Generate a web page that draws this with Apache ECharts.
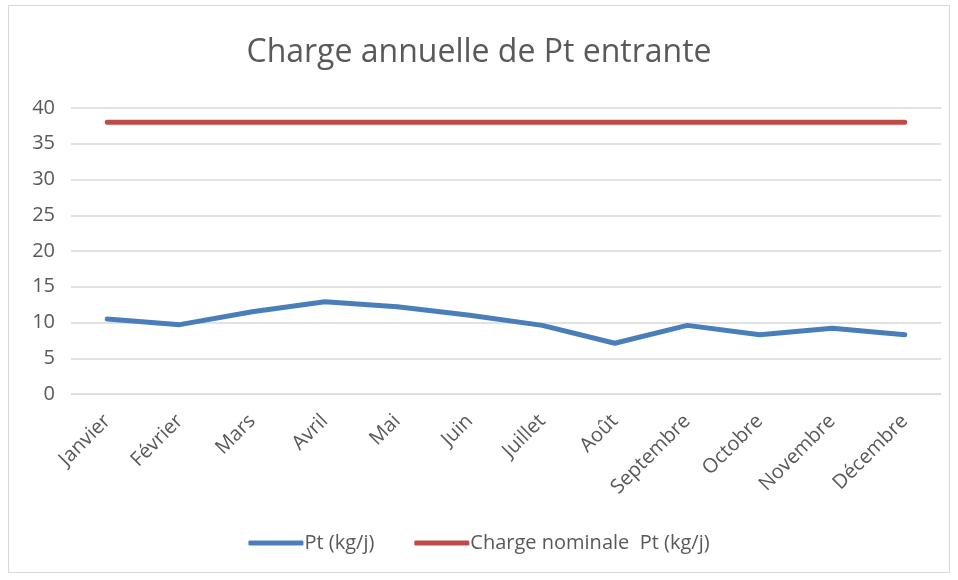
<!DOCTYPE html>
<html>
<head>
<meta charset="utf-8">
<script src="https://cdn.jsdelivr.net/npm/echarts@6/dist/echarts.min.js"></script>
<style>
  html, body { margin: 0; padding: 0; background: #fff; }
  #chart { position: absolute; left: 8px; top: 5px; width: 942px; height: 568px; border: 1px solid #d9d9d9; box-sizing: border-box; }
</style>
</head>
<body>
<div id="chart"></div>
<script>
const months = ['Janvier', 'Février', 'Mars', 'Avril', 'Mai', 'Juin', 'Juillet', 'Août', 'Septembre', 'Octobre', 'Novembre', 'Décembre'];
const ptValues = [10.5, 9.7, 11.5, 12.9, 12.2, 11.0, 9.6, 7.1, 9.6, 8.3, 9.2, 8.3];
const nominalValues = [38, 38, 38, 38, 38, 38, 38, 38, 38, 38, 38, 38];

const chart = echarts.init(document.getElementById('chart'));

const option = {
  animation: false,
  textStyle: { fontFamily: 'Open Sans, Liberation Sans, sans-serif' },
  title: {
    text: 'Charge annuelle de Pt entrante',
    left: 'center',
    top: 26,
    textStyle: { color: '#595959', fontSize: 32, fontWeight: 'normal' }
  },
  legend: {
    bottom: 14,
    left: 'center',
    itemWidth: 55,
    itemHeight: 5,
    itemGap: 40,
    icon: 'roundRect',
    textStyle: { color: '#595959', fontSize: 20, padding: [0, 0, 0, -4] },
    data: ['Pt (kg/j)', 'Charge nominale  Pt (kg/j)']
  },
  grid: {
    left: 62,
    right: 8,
    top: 102,
    bottom: 178
  },
  xAxis: {
    type: 'category',
    data: months,
    boundaryGap: true,
    axisLine: { lineStyle: { color: '#d9d9d9' } },
    axisTick: { show: false },
    axisLabel: { rotate: 45, color: '#595959', fontSize: 20, margin: 24, interval: 0 }
  },
  yAxis: {
    type: 'value',
    min: 0,
    max: 40,
    interval: 5,
    axisLine: { show: false },
    axisTick: { show: false },
    axisLabel: { color: '#595959', fontSize: 20, margin: 16 },
    splitLine: { lineStyle: { color: '#d9d9d9', width: 1.5 } }
  },
  series: [
    {
      name: 'Pt (kg/j)',
      type: 'line',
      data: ptValues,
      symbol: 'none',
      color: '#4a7ebb',
      lineStyle: { width: 5, color: '#4a7ebb', cap: 'round', join: 'round' }
    },
    {
      name: 'Charge nominale  Pt (kg/j)',
      type: 'line',
      data: nominalValues,
      symbol: 'none',
      color: '#be4b48',
      lineStyle: { width: 5, color: '#be4b48', cap: 'round' }
    }
  ]
};

chart.setOption(option);
</script>
</body>
</html>
